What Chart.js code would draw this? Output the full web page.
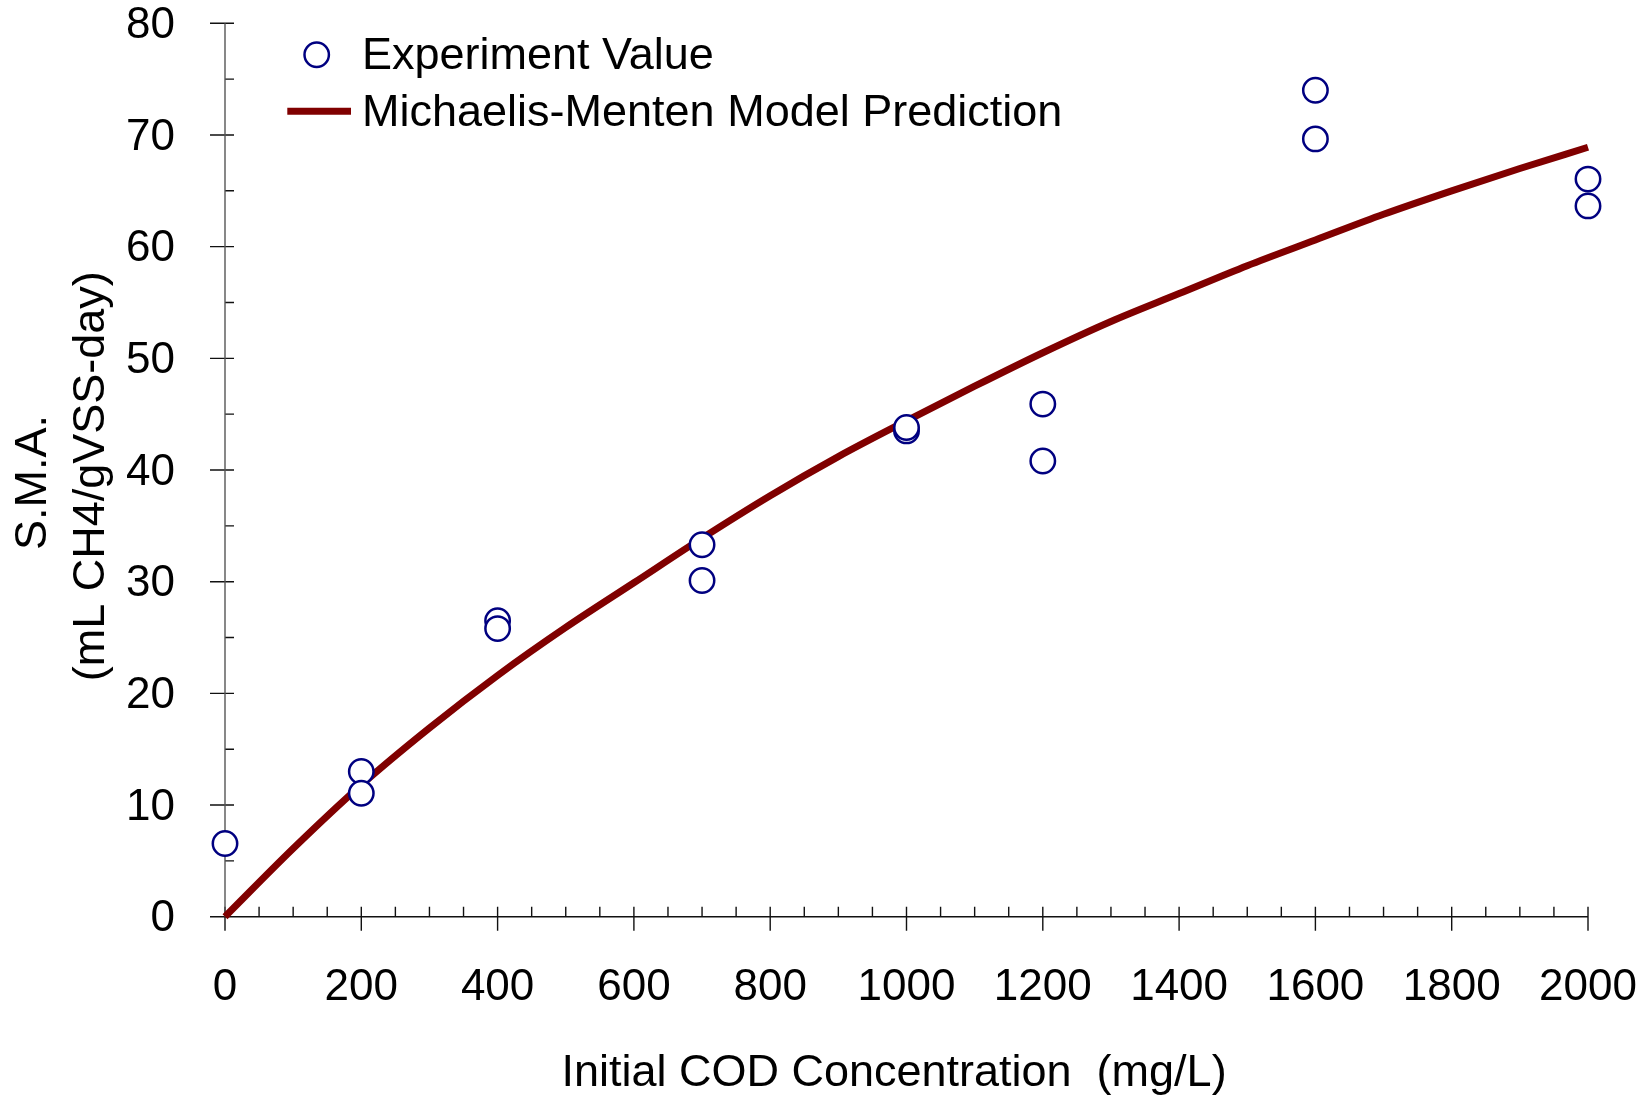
<!DOCTYPE html>
<html>
<head>
<meta charset="utf-8">
<title>S.M.A. vs Initial COD Concentration</title>
<script src="https://cdn.jsdelivr.net/npm/chart.js@4/dist/chart.umd.min.js"></script>
<style>
  html, body { margin: 0; padding: 0; background: #ffffff; }
  canvas { display: block; }
</style>
</head>
<body>
<canvas id="chart" width="1648" height="1099"></canvas>
<script>
// Measured specific methanogenic activity
const expCOD = [0, 200, 200, 400, 400, 700, 700, 1000, 1000, 1200, 1200, 1600, 1600, 2000, 2000];
const expSMA = [6.55, 13.0, 11.05, 26.5, 25.8, 33.3, 30.1, 43.5, 43.8, 45.9, 40.8, 74.0, 69.65, 66.05, 63.65];

// Michaelis-Menten prediction curve
const modelCOD = [0, 100, 200, 300, 400, 500, 600, 700, 800, 900, 1000, 1100, 1200, 1300, 1400, 1500, 1600, 1700, 1800, 1900, 2000];
const modelSMA = [0, 6.1, 11.8, 16.9, 21.6, 25.9, 29.9, 33.9, 37.7, 41.2, 44.4, 47.5, 50.5, 53.3, 55.8, 58.3, 60.6, 62.9, 65.0, 67.0, 68.9];

// Axis ticks
const xTicks = [0, 200, 400, 600, 800, 1000, 1200, 1400, 1600, 1800, 2000];
const yTicks = [0, 10, 20, 30, 40, 50, 60, 70, 80];
const xMinorStep = 50;
const yMinorStep = 5;

const seriesNames = ['Experiment Value', 'Michaelis-Menten Model Prediction'];
const xTitle = 'Initial COD Concentration  (mg/L)  ';
const yTitle = ['S.M.A.  ', '(mL CH4/gVSS-day) '];

const FONT = '"Liberation Sans", Arial, Helvetica, sans-serif';

// Axis lines with crossing major ticks and inner minor ticks
const axisFrame = {
  id: 'axisFrame',
  beforeDatasetsDraw(chart) {
    const { ctx, scales: { x, y } } = chart;
    const x0 = x.getPixelForValue(x.min);
    const y0 = y.getPixelForValue(y.min);
    ctx.save();
    ctx.lineWidth = 1.4;
    ctx.strokeStyle = '#111';
    ctx.beginPath();
    ctx.moveTo(x0, y0);
    ctx.lineTo(x.getPixelForValue(x.max), y0);
    for (let v = x.min; v <= x.max; v += xMinorStep) {
      const px = x.getPixelForValue(v);
      const major = xTicks.includes(v);
      ctx.moveTo(px, y0 - 10);
      ctx.lineTo(px, y0 + (major ? 14 : 0));
    }
    for (let v = y.min; v <= y.max; v += yMinorStep) {
      const py = y.getPixelForValue(v);
      const major = yTicks.includes(v);
      ctx.moveTo(x0 - (major ? 15 : 0), py);
      ctx.lineTo(x0 + 9, py);
    }
    ctx.stroke();
    ctx.strokeStyle = '#555';
    ctx.beginPath();
    ctx.moveTo(x0, y0);
    ctx.lineTo(x0, y.getPixelForValue(y.max));
    ctx.stroke();
    ctx.restore();
  }
};

// Legend in the upper-left corner of the plot
const cornerLegend = {
  id: 'cornerLegend',
  afterDraw(chart) {
    const { ctx, chartArea } = chart;
    const [pts, model] = chart.data.datasets;
    const left = chartArea.left;
    const top = chartArea.top;
    const textX = left + 137;
    ctx.save();
    // circle marker
    ctx.beginPath();
    ctx.arc(left + 91.7, top + 31.5, pts.pointRadius, 0, Math.PI * 2);
    ctx.fillStyle = pts.pointBackgroundColor;
    ctx.fill();
    ctx.lineWidth = pts.borderWidth;
    ctx.strokeStyle = pts.borderColor;
    ctx.stroke();
    // line marker
    ctx.beginPath();
    ctx.moveTo(left + 62.3, top + 88);
    ctx.lineTo(left + 126, top + 88);
    ctx.lineWidth = model.borderWidth;
    ctx.strokeStyle = model.borderColor;
    ctx.stroke();
    // labels
    ctx.font = '45px ' + FONT;
    ctx.fillStyle = '#000';
    ctx.textAlign = 'left';
    ctx.textBaseline = 'middle';
    ctx.fillText(pts.label, textX, top + 33.5);
    ctx.fillText(model.label, textX, top + 90.5);
    ctx.restore();
  }
};

new Chart(document.getElementById('chart'), {
  type: 'scatter',
  data: {
    datasets: [
      {
        label: seriesNames[0],
        data: expCOD.map((c, i) => ({ x: c, y: expSMA[i] })),
        pointStyle: 'circle',
        pointRadius: 12.2,
        pointHoverRadius: 12.2,
        borderWidth: 2.5,
        borderColor: '#000080',
        pointBackgroundColor: '#ffffff',
        backgroundColor: '#ffffff',
        showLine: false,
        clip: false
      },
      {
        type: 'line',
        label: seriesNames[1],
        data: modelCOD.map((c, i) => ({ x: c, y: modelSMA[i] })),
        borderColor: '#800000',
        borderWidth: 7,
        pointRadius: 0,
        fill: false,
        clip: false,
        cubicInterpolationMode: 'monotone',
        borderCapStyle: 'butt',
        borderJoinStyle: 'round'
      }
    ]
  },
  options: {
    responsive: false,
    animation: false,
    devicePixelRatio: 1,
    layout: { padding: { left: 0, top: 23.3, right: 60, bottom: 0 } },
    plugins: {
      legend: { display: false },
      tooltip: { enabled: false }
    },
    scales: {
      x: {
        type: 'linear',
        min: 0,
        max: 2000,
        afterBuildTicks(scale) { scale.ticks = xTicks.map(v => ({ value: v })); },
        afterFit(scale) {
          scale.height = 182.3;
          scale.paddingLeft = 0;
          scale.paddingRight = 0;
        },
        grid: { display: false, drawTicks: false },
        border: { display: false },
        ticks: {
          color: '#000',
          padding: 49.3,
          maxRotation: 0,
          autoSkip: false,
          callback: v => String(v),
          font: { family: FONT, size: 44, lineHeight: 1 }
        },
        title: {
          display: true,
          text: xTitle,
          color: '#000',
          font: { family: FONT, size: 45, lineHeight: 1.2 },
          padding: { top: 0, bottom: -2 }
        }
      },
      y: {
        type: 'linear',
        min: 0,
        max: 80,
        afterBuildTicks(scale) { scale.ticks = yTicks.map(v => ({ value: v })); },
        afterFit(scale) {
          scale.width = 225;
          scale.paddingTop = 0;
          scale.paddingBottom = 0;
        },
        grid: { display: false, drawTicks: false },
        border: { display: false },
        ticks: {
          color: '#000',
          padding: 50,
          labelOffset: 2.5,
          autoSkip: false,
          callback: v => String(v),
          font: { family: FONT, size: 44, lineHeight: 1 }
        },
        title: {
          display: true,
          text: yTitle,
          color: '#000',
          font: { family: FONT, size: 45, lineHeight: 1.291 },
          padding: { top: 4.75, bottom: 0 }
        }
      }
    }
  },
  plugins: [axisFrame, cornerLegend]
});
</script>
</body>
</html>
